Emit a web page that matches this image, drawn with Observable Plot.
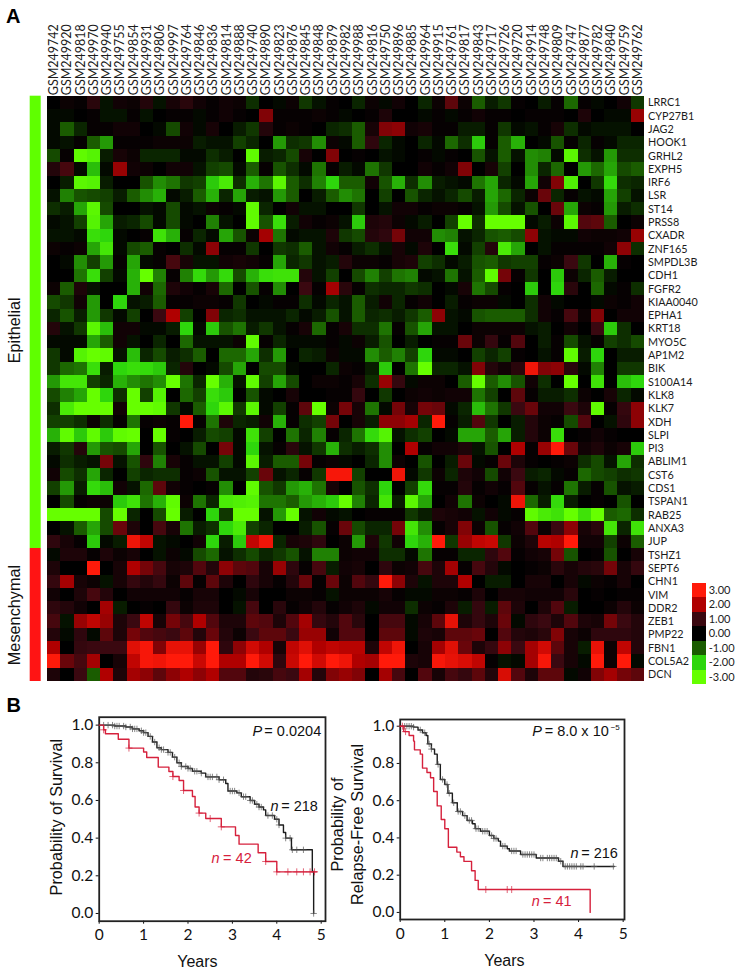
<!DOCTYPE html>
<html>
<head>
<meta charset="utf-8">
<script src="https://cdn.jsdelivr.net/npm/d3@7"></script>
<script src="https://cdn.jsdelivr.net/npm/@observablehq/plot@0.6"></script>
<style>
html,body{margin:0;padding:0;background:#fff;}
#page{position:relative;width:740px;height:974px;overflow:hidden;font-family:"Liberation Sans",Arial,sans-serif;}
#page>div{position:absolute;}
.panel{font:bold 20px "Liberation Sans",Arial,sans-serif;color:#000;line-height:20px;}
#heat svg g[aria-label="cell"]{filter:blur(.45px);}
</style>
</head>
<body>
<div id="page">
  <div class="panel" style="left:6px;top:6px;">A</div>
  <div class="panel" style="left:6.5px;top:695px;">B</div>
  <div id="side" style="left:0;top:0;"></div>
  <div id="heat" style="left:47.3px;top:0;"></div>
  <div id="legend" style="left:692px;top:575px;"></div>
  <div id="km1" style="left:0;top:700px;"></div>
  <div id="km2" style="left:330px;top:700px;"></div>
</div>
<script>
const samples = ["GSM249742","GSM249920","GSM249818","GSM249970","GSM249940","GSM249755","GSM249854","GSM249931","GSM249806","GSM249997","GSM249764","GSM249846","GSM249836","GSM249814","GSM249888","GSM249740","GSM249890","GSM249823","GSM249876","GSM249845","GSM249848","GSM249879","GSM249982","GSM249988","GSM249816","GSM249750","GSM249896","GSM249885","GSM249964","GSM249915","GSM249761","GSM249817","GSM249843","GSM249717","GSM249726","GSM249720","GSM249914","GSM249748","GSM249809","GSM249747","GSM249877","GSM249782","GSM249840","GSM249759","GSM249762"];
const genes = ["LRRC1","CYP27B1","JAG2","HOOK1","GRHL2","EXPH5","IRF6","LSR","ST14","PRSS8","CXADR","ZNF165","SMPDL3B","CDH1","FGFR2","KIAA0040","EPHA1","KRT18","MYO5C","AP1M2","BIK","S100A14","KLK8","KLK7","XDH","SLPI","PI3","ABLIM1","CST6","CDS1","TSPAN1","RAB25","ANXA3","JUP","TSHZ1","SEPT6","CHN1","VIM","DDR2","ZEB1","PMP22","FBN1","COL5A2","DCN"];
const expression = [
/*LRRC1*/[0,.2,.1,.7,-.2,.3,.2,.6,-.2,.4,.7,.3,.1,.3,.2,-.5,0,-.1,.2,-.6,-.2,.1,0,-.4,.2,-.1,.3,0,-.4,.2,1.3,.2,-1,-.3,-.6,.1,0,-.3,.1,-1.1,.1,-.1,0,.3,-.6],
/*CYP27B1*/[-.1,-.1,0,.1,-.2,-.2,.1,-.2,0,.1,.1,-.1,.1,.3,.1,0,1.6,.1,.1,.1,.2,.1,-.1,0,.1,.5,0,0,-.1,.1,-.1,.1,.3,.1,.1,0,.1,.1,.1,0,.5,0,-.1,-.1,1.8],
/*JAG2*/[-.1,-1,-.4,.1,.1,.3,.3,0,-.1,-.8,.3,-.1,.4,0,-.3,-.6,.6,.1,.2,.1,0,-.4,-.5,-1,.4,1.6,1.7,.3,.4,.1,.1,-.3,-.3,.1,-.6,-.1,-.2,.1,.4,-.5,-.1,-.2,-.2,-.2,0],
/*HOOK1*/[-.1,-.2,.1,-1,-1.5,.1,.1,.1,.2,.2,.2,-.3,-.2,-.2,-.7,-.4,0,-1.5,-.5,-.6,-1.4,.2,-.1,-1,.8,-.4,-.1,0,-.4,-.1,-1.1,-.5,-1.9,.1,-1,-1.7,0,-.1,-.9,.1,-.4,.1,-.1,-.4,-.4],
/*GRHL2*/[-.8,.1,-2.9,-2.7,-.3,.4,.2,-.4,-.4,-.4,-.1,-.1,-.5,-.3,0,-2.9,-.3,-.4,-.8,.4,0,1.6,0,.1,0,-.2,-.1,0,.1,-.1,.1,0,-.9,-.2,-1,-.2,-1.4,-1.3,-.1,-2.8,-.5,-.2,-1.5,-.5,-.5],
/*EXPH5*/[.6,1.1,-.1,-1.8,-.1,1.8,.3,.2,0,.3,.3,-.2,-.7,-.8,-.1,-1,.1,-.9,-.5,-.1,-1.2,.1,-.3,-.1,-1.2,-.6,0,0,.3,.1,.3,1.6,0,.4,-.7,0,-1.4,-.4,-1.1,0,-1.5,-1.1,-1.6,-.8,-1],
/*IRF6*/[0,-.3,-2.8,-2.7,-.3,0,0,-.9,-1.4,-1.2,-.6,-.7,-1.9,-2.5,-.5,-1.7,-1.2,-2.8,-1,-.5,-1.3,-2,-1,-1,.3,-.9,-1.7,-.5,-1.4,-.3,-.2,-.1,-1.2,-1.6,-.4,-.1,-1.6,.3,1.6,-2.6,0,-.6,-2.1,-.5,-.4],
/*LSR*/[-.2,-1.3,-.9,-.8,-.7,-.3,-1,-1.4,-1.7,-.1,-.3,-1,-1.7,-.4,-1.6,-.3,-.2,-1.5,-1,0,-.3,-1,-1.4,-1.2,0,-.7,0,-.9,-.4,-.2,-.4,-.8,-.3,-1.6,-1.1,-.4,.2,1.4,-.4,.1,-.2,-.1,-1.6,-.7,-.2],
/*ST14*/[-.5,-.3,-1.6,-2.8,-.8,0,0,-.2,-.1,-.8,-.1,-.2,.2,.1,-.1,-2.9,-.4,0,.3,-.2,-.2,0,0,-.6,0,-.2,.3,.3,.1,.2,.2,.1,-.2,-1.5,-.8,-.2,-.9,0,1.4,-1.6,.2,.1,-1.5,-.3,-.5],
/*PRSS8*/[-.1,-.2,-.7,-2.7,-1.6,-.3,-.4,-.8,-.1,-.8,-.1,0,-1.3,-.2,0,-2.9,-.9,-2.2,-.3,.3,.1,.2,-.2,-1.9,.5,.6,.2,-.1,-.3,0,-.7,-3,-.5,-3,-3,-3,-.1,-.3,.2,-2.8,1.2,1.3,-1,0,.2],
/*CXADR*/[-.2,-.2,-.1,-2.2,-2,-.1,0,.1,-2.3,-1.7,.1,-.4,-.1,-1.6,-.9,.2,1.9,-1.2,-.1,-.2,-.2,.5,-.6,-.8,.6,.8,1.5,.3,.3,-1.4,-1.3,-.2,-.4,-.9,-1,-.8,1.7,-.2,-.1,-.1,.3,.2,.2,.3,1.8],
/*ZNF165*/[.2,.1,.2,-1.6,-2.4,-.1,-.8,-1,.1,0,-.5,-.1,1.7,.1,.1,-.6,0,-.6,-.5,-1,-.2,.3,.1,-.3,-.5,-.2,.4,-.1,.5,0,-2.2,-.1,-.7,.6,-2.5,-1.6,0,-.2,.1,.1,.1,.1,.3,1.7,-.5],
/*SMPDL3B*/[0,-.1,-1.4,-.7,-1.5,.1,-1.6,-.1,.1,1.1,.4,-.2,-.2,.3,.4,.3,.1,-1.6,-.4,-.6,-.2,-.3,.6,.2,.2,.1,.4,.5,-.7,-.5,-.1,-.3,-.9,-1,-.6,-.7,-.7,.1,.2,1,-.6,0,-1.7,.1,0],
/*CDH1*/[0,0,-1.2,-2.2,-.7,-.1,-1.7,-3,-1.3,.1,-1.3,-2.1,-1.5,-2.1,-.8,-1.7,-2.2,-2.3,-2.3,.6,-.2,-.7,0,-.8,-1.3,-.7,-1.2,-1.3,-.1,-.2,-1.2,-.2,-1,-2.9,1.5,.1,-.6,0,-1.9,.2,-.4,-1,-.3,0,0],
/*FGFR2*/[.2,-1,.5,-.2,0,0,-1.7,.3,-1.1,.5,.3,.1,.4,-1.1,0,-.9,.1,-1.4,0,1,.1,1.9,.7,.1,-.5,-.4,-.4,-.6,-.5,0,-.1,.4,-1.2,-.8,.1,0,-1.9,0,-2,.7,0,-1.1,-.1,.1,-.5],
/*KIAA0040*/[-.8,-.6,.3,-1.5,0,-2,-.2,-.3,-1,.1,.1,.2,.2,.1,-.6,0,-.1,.1,.1,-.5,-.1,-.4,-.2,-1,-.3,.3,-.4,.1,.3,0,-.3,.1,.2,.2,-.1,0,-.5,.3,-.1,0,0,-.1,.2,.1,.3],
/*EPHA1*/[-.4,-.9,-.3,-1.5,-.6,-.1,-.7,0,1,2,-.7,0,1.6,-.4,-.5,-.2,-.2,-.2,-.4,-.1,-.3,-.9,-.2,-1,-.4,-.5,-.3,-.6,-1,1.7,-.2,-.1,-.9,-1,-1,-1,-.5,.3,.1,1.1,.2,1.6,0,.3,.3],
/*KRT18*/[.6,-.2,-.6,-2.8,-1.8,.3,.3,-.1,-.1,-.3,-2,-.1,-1.9,-.9,-1.2,-.3,-.6,-.2,.1,.4,-1.1,.1,.4,-.5,-.5,-1.2,.1,-.9,-1.6,-.2,-.2,0,.2,.2,.2,.2,-.2,-.3,0,.3,0,1,-1.9,-.5,0],
/*MYO5C*/[-.1,-.1,-.1,-1.6,-1,.3,-.2,0,-.4,0,-1.1,-.2,-.2,-.2,.2,-2.9,.1,-.4,-.1,-.1,-.1,.1,-.1,.2,-.3,-.9,0,-.3,0,.1,.1,1.4,.2,.9,.1,1.2,0,-.3,.1,-.8,-.2,.1,-.7,-.5,-.8],
/*AP1M2*/[-.6,-.1,-2.7,-3,-2.9,-.2,-1.8,-.4,-.8,-.3,-.5,-1,0,-1.1,-1.1,-1.6,-.5,-1.5,0,-.4,-.3,.2,-.1,-.1,-1.4,-1,-1.3,-.7,-2,-.1,-.1,0,-.7,-.4,-.7,.1,0,-.2,.1,-2.9,-.3,-2,0,-.3,-.3],
/*BIK*/[-.6,-1.1,-1.2,-2.2,-.3,-2,-2.2,-2.1,-1.9,-.4,.6,0,-.1,-.8,-1.6,0,-.8,-.8,-.1,0,0,-.4,.2,.1,-.3,-1.9,0,-1.2,-3,-.4,-.4,-.2,1.6,.6,.3,.7,2.8,1.6,1.7,.7,-.1,-1.3,0,-.6,-.6],
/*S100A14*/[-1.5,-2.4,-2.4,-.7,-.4,-1.7,-1.4,-1.2,-1.4,-3,-1.2,-.4,-3,-1.7,-.2,-2.9,-.7,-1.6,-.8,0,.2,.2,.1,.4,-.5,1.8,.9,-.1,.2,.2,0,-1,-3,-1,-1.4,-.9,.3,-.5,0,-3,0,-2.3,0,-1.8,-2],
/*KLK8*/[-.8,-1.3,-1.6,-3,-2,-.5,-3,-.7,-2.7,0,-1.1,-.7,-2.2,-1.9,0,-.9,-.1,0,.4,0,0,.1,.1,.9,0,-.6,0,.2,.3,.2,.3,.3,-1.2,-.7,0,1.3,.1,-.3,-.3,-.5,.2,0,.4,-.4,-.1],
/*KLK7*/[-.5,-2.5,-3,-3,-3,.3,-3,-3,-2.9,-.6,-.1,-1,-2,-2.8,-.6,-2.8,-.1,-.7,.1,1.3,-3,.2,1.5,.4,-1.2,-.1,1.5,.4,1.5,1.4,-.1,-.4,-1.8,-1.2,-.6,1,1.4,.3,.3,1,.5,-2.9,.1,.9,1.7],
/*XDH*/[-.7,-.7,-.5,.2,-.5,.1,-1.2,.1,.2,.1,3,.1,-1.2,.5,-.4,-.3,.3,-1.7,.1,-.5,-.7,1.5,0,.4,-.3,1.7,1.7,1.9,-.4,3,.1,-.3,1.2,-.6,0,-.3,.6,.2,.1,-.8,1.2,0,-.2,.8,1.7],
/*SLPI*/[-1.7,-2.9,-1.9,-2.9,-1.9,-2.9,-3,0,-3,.1,0,-.3,-.8,-.7,-.1,-2.3,-.7,0,-1.2,-.4,-1.3,.1,-.4,-1.2,-2.1,-2.7,-.2,-.5,-.7,0,-.1,-1.6,-1.6,-1,-1.6,-.3,.6,.2,-2.2,0,.1,.3,.1,0,0],
/*PI3*/[-.3,-.6,.6,-1.5,-.9,-.8,-1.6,0,-.9,0,-.2,-.8,0,1.5,-.1,-2,-.2,.1,.7,-.2,-.6,-1.7,-.5,-.3,-.5,-1.4,0,2,.1,.3,.3,.5,-.2,-.9,0,2,.1,1.8,3,1.4,.3,.5,.2,.4,-1.9],
/*ABLIM1*/[-.1,-.5,-.3,-.2,1.5,-.2,-.9,.8,-1.3,.4,.1,-.2,-.2,-.7,-.1,-2.8,-.3,-1,-1,1.5,.1,.2,-.1,0,-.4,-1.4,.2,0,-.9,0,-.3,1.4,-.1,.1,1.4,.5,.1,0,.1,.2,-.5,-.8,-.2,-1.6,-.5],
/*CST6*/[.3,-.8,-.5,-1.6,-.4,0,-.7,-.4,-.5,-.5,.1,.2,-.9,-.2,-.2,-.7,1.4,-.2,-.4,.1,-.6,2.9,2.9,-.7,0,0,2.8,-.1,-.6,.2,-.4,.5,.3,-.8,.3,1,-.3,-.4,-.1,.1,-1.1,-.8,-.7,-.5,-.6],
/*CDS1*/[-.7,-1.5,-.3,-2.1,-1.8,.3,-.2,-1.1,1.3,.3,.1,0,.1,-1.4,0,-2.9,-.9,-.6,-1.5,-1.7,-1.2,.4,0,-.9,-.5,-2,0,-.7,-2.1,.1,.1,.6,.1,.3,.1,1.2,.1,-.2,.1,-1.2,-.3,.1,-.9,-.2,-.3],
/*TSPAN1*/[0,-.8,.1,.2,.2,-1.9,-2.3,-1.2,-1.7,-2.9,.2,-1.2,-.4,-2.5,-2.6,-2.7,-1.2,-1.2,-1,-1.5,-1.7,-1.9,-3,-1.3,-.4,-2.4,-.3,-2.8,-1.6,0,.3,-1.2,.2,0,-.1,2.8,-1.1,-.3,-2.1,-.3,0,.1,0,-.9,0],
/*RAB25*/[-3,-3,-3,-3,-.8,-3,-.4,0,-.8,-3,-.3,0,-2,-.6,-3,-3,-.2,-1.5,-3,-.2,.3,-.1,-.2,0,.1,.1,.1,-.6,-.3,.5,.4,.3,-.2,.3,-.1,.1,-2.9,-2.5,-2.3,-3,-2.3,-3,-1,-1.1,-.5],
/*ANXA3*/[0,-.2,-1,-1.6,-.8,1.4,.5,0,1.1,.4,-1.2,-.3,-.5,-2,-2.5,-.7,-.4,0,0,-.3,-.9,.1,1.4,-.8,-.4,-.4,1.5,-2.4,-1.4,.1,.4,1.6,.2,-.9,.1,.3,1.2,.2,1,1.7,.4,.7,-2.4,-.4,-2.3],
/*JUP*/[.8,.4,.1,-1.9,-.1,-.3,2.8,2.2,-.2,-.1,0,.3,-2,-.3,-1.9,2.2,2.8,-.4,.4,.5,.8,0,.2,-1.5,.5,-.6,.3,-2,-1.7,3,-.6,1.8,2.2,2.3,-.6,.2,.5,2.1,2,3,.3,.3,-.7,.2,-1],
/*TSHZ1*/[-.1,.5,.5,.1,.5,.2,.4,0,-.2,.2,-.1,-.8,-1.1,-.2,-.5,-.8,-.4,-.6,-.9,-.2,-1.3,-1.3,.2,.3,.3,-.5,-.5,-.1,-1.2,.1,.1,-.4,-.4,.8,1.2,.1,.3,.4,1.5,-.9,0,.1,-.9,0,.4],
/*SEPT6*/[.5,0,0,3,0,.4,2,1.5,1.1,.4,.5,1.2,.6,1.7,1.3,1.2,.4,1.8,.8,.1,1.1,-.3,.3,.4,0,.8,.2,.3,1.1,.5,1.9,.1,1.1,.6,-.1,0,.1,.2,.7,.4,.6,.7,1.5,.4,.9],
/*CHN1*/[.9,1.9,.4,.2,-.2,.4,.9,.6,.9,.2,1.3,.1,1.3,.5,0,.8,.4,.1,.6,1.4,.1,1.4,.2,1.2,.9,3,1.7,.5,-.2,.5,.5,2,0,-.3,-.3,0,.4,.4,0,.4,-.1,.2,.1,.4,0],
/*VIM*/[.3,0,.5,1.1,.6,0,.3,.3,.3,.3,.1,.4,.4,0,-.1,.4,0,0,.2,.2,.1,-.2,.2,.2,.2,.4,.1,-.1,-.1,.2,.2,.1,.5,0,.4,.4,.3,.3,.3,.7,0,.1,0,.1,.1],
/*DDR2*/[.8,.6,.3,0,1.9,-.3,0,.1,0,.9,.2,.5,.5,0,-.2,1.1,0,.7,.1,.3,.6,.1,.3,.5,-.1,.3,.3,-.5,.2,.1,.5,-.3,.9,-.3,1.3,.5,0,.5,1.2,-.3,0,0,.2,.6,.2],
/*ZEB1*/[1.1,-.2,1.8,2.2,1.8,.5,1,2.2,.4,1.5,1.1,2,1.2,.5,.5,1.3,1.2,.5,1.2,1.9,.9,.6,1.2,.7,0,1.1,1.1,-.1,.4,1.3,2.7,.5,.9,.5,1.4,-.1,.8,1,.5,1.2,.5,.4,1.5,1,.6],
/*PMP22*/[.6,-.1,.8,-.1,1.3,.5,1.5,1.2,1.1,1,1.3,.6,1.4,.6,.2,1,1.3,1.3,1,1.8,1.8,.3,1.2,1.2,0,1.3,1.3,-.1,.5,.4,1.3,1.3,1.4,0,1.2,.6,.5,.7,1.6,.4,.2,.8,.8,.8,.6],
/*FBN1*/[2,0,.9,1,1,1,2.6,2.9,1.6,2.7,2.7,1.8,3,.8,1.7,2.4,2,.4,2.2,2.6,2,2.2,2.1,2.1,.5,2.2,2.8,0,.4,1.9,2.6,1.4,.5,.9,1.7,1,1.9,2.4,1.3,.4,-.3,2.7,.2,2.2,.6],
/*COL5A2*/[3,1.4,1.1,1.9,0,.4,2.2,2.9,2.8,3,3,2.3,3,2,2,3,2.4,.8,2.3,3,2.4,3,2.8,2,1.9,3,3,.5,.4,2.9,2.7,2.5,2.2,.1,-.2,-.1,1.9,2.9,1,.4,-.1,3,.2,3,-.1],
/*DCN*/[.5,0,1,-1,2,.5,1.9,1.7,1.3,1.7,2,1.7,2,1.2,1.2,.6,.7,1.1,1,1.9,.6,1.6,1.8,1.6,0,1.9,1.1,0,1.2,.4,1.1,.9,1.3,.6,2.5,1.2,.5,1.3,1.3,-.1,.3,1.6,1.9,1.5,1.3]
];
const colorStops = [-3,-2,-1,0,1,2,3];
const colorRange = ["#66ff00","#2ed60c","#1a5c00","#000000","#3a0810","#b00000","#ff1a0a"];
const legendLabels = ["3.00","2.00","1.00","0.00","-1.00","-2.00","-3.00"];
const legendValues = [3,2,1,0,-1,-2,-3];
const groupNames = ["Epithelial","Mesenchymal"];
const groupFrom = [0,34];
const groupTo = [34,44];
const groupColors = ["#5fff00","#ff1414"];

// Survival panel
const os_hi_t=[0,.35,.6,.75,.9,1,1.1,1.2,1.3,1.4,1.55,1.65,1.75,1.85,2,2.1,2.3,2.4,2.7,2.85,2.9,3.1,3.2,3.4,3.5,3.6,3.7,3.75,3.95,4.05,4.15,4.2,4.33,4.8,4.83];
const os_hi_s=[1,.995,.99,.98,.97,.96,.94,.91,.88,.87,.855,.83,.80,.78,.77,.755,.745,.725,.71,.69,.65,.64,.62,.60,.58,.565,.55,.52,.50,.47,.43,.40,.338,.223,0];
const os_hi_cens=[.1,.2,.3,.35,.4,.45,.55,.6,.7,.75,.8,.85,.95,1,1.05,1.15,1.25,1.35,1.4,1.45,1.55,1.6,1.7,1.8,1.85,1.95,2,2.05,2.15,2.2,2.3,2.45,2.5,2.55,2.65,2.7,2.8,2.95,3,3.05,3.15,3.25,3.3,3.4,3.45,3.55,3.6,3.65,3.8,3.9,4,4.05,4.2,4.3,4.35,4.45,4.6,4.83];
const os_lo_t=[0,.1,.14,.43,.67,1,1.07,1.33,1.57,1.66,1.8,1.9,2.1,2.16,2.25,2.4,2.75,3.07,3.15,3.58,3.75,4,4.9];
const os_lo_s=[1,.975,.954,.925,.878,.857,.828,.777,.754,.727,.706,.653,.621,.565,.533,.504,.46,.414,.368,.322,.276,.221,.221];
const os_lo_cens=[.1,.67,1.66,1.9,2.25,2.5,2.75,3.75,4,4.25,4.45,4.6,4.75,4.85];
// Relapse-free panel
const rf_hi_t=[0,.3,.4,.5,.58,.62,.7,.77,.83,.9,1,1.07,1.17,1.28,1.4,1.5,1.62,1.68,1.8,2,2.1,2.2,2.25,2.4,2.45,2.7,3.05,3.55,3.65,4.8];
const rf_hi_s=[1,.995,.98,.965,.95,.905,.877,.85,.795,.714,.687,.64,.589,.542,.52,.494,.476,.45,.436,.413,.397,.383,.356,.342,.33,.311,.292,.275,.247,.247];
const rf_hi_cens=[.1,.15,.2,.25,.3,.45,.55,.65,.7,.85,.95,1.05,1.1,1.2,1.3,1.35,1.45,1.55,1.6,1.7,1.75,1.85,1.9,1.95,2.05,2.1,2.15,2.3,2.35,2.5,2.55,2.6,2.75,2.8,2.85,2.9,2.95,3,3.15,3.2,3.3,3.35,3.4,3.45,3.5,3.6,3.7,3.75,3.8,3.85,3.9,3.95,4.05,4.1,4.35,4.78];
const rf_lo_t=[0,.08,.2,.3,.32,.45,.5,.6,.68,.75,.83,.92,1,1.08,1.27,1.35,1.43,1.6,1.68,1.75,4.26];
const rf_lo_s=[1,.971,.95,.92,.873,.85,.775,.751,.723,.649,.572,.499,.449,.35,.324,.299,.274,.224,.172,.123,0];
const rf_lo_cens=[.05,.12,1.92,2.4,2.5];

const INK="#1c1c1c", RED="#d6213c";
const labelFont='Lato, "Liberation Sans", sans-serif';
const humanist='"Liberation Sans", Arial, sans-serif';

const cells = expression.flatMap((row,r)=>row.map((v,c)=>({gene:genes[r],sample:samples[c],value:v})));
const colorScale = {type:"linear",domain:colorStops,range:colorRange,clamp:true};
const base = {background:"transparent",overflow:"visible"};

document.getElementById("heat").append(Plot.plot({
  width:645,height:681,marginLeft:0,marginRight:48,marginTop:95.7,marginBottom:0,
  style:{...base,fontFamily:labelFont,color:INK},
  x:{domain:samples,padding:0,axis:null,round:false},
  y:{domain:genes,padding:0,axis:null,round:false},
  color:colorScale,
  marks:[
    Plot.cell(cells,{x:"sample",y:"gene",fill:"value",shapeRendering:"crispEdges"}),
    Plot.axisX({anchor:"top",tickSize:0,tickRotate:-90,tickPadding:1,fontSize:12.5,label:null}),
    Plot.axisY({anchor:"right",tickSize:0,tickPadding:3.5,fontSize:10.8,label:null})
  ]
}));

const groups = groupNames.map((name,i)=>({name,from:groupFrom[i],to:groupTo[i],color:groupColors[i]}));
document.getElementById("side").append(Plot.plot({
  width:47,height:681,marginLeft:29.7,marginRight:6.3,marginTop:95.7,marginBottom:0,
  style:{...base},
  x:{domain:[0,1],axis:null},
  y:{domain:[0,44],axis:null,reverse:true},
  marks:[
    Plot.rect(groups,{x1:0,x2:1,y1:"from",y2:"to",fill:d=>d.color}),
    Plot.text([groups[0]],{x:0,y:d=>(d.from+d.to)/2,text:"name",rotate:-90,dx:-15,dy:8,fontSize:16.3,fontFamily:humanist,fill:"#111"}),
    Plot.text([groups[1]],{x:0,y:d=>(d.from+d.to)/2,text:"name",rotate:-90,dx:-15,dy:0,fontSize:16.3,fontFamily:humanist,fill:"#111"})
  ]
}));

const legendData = legendValues.map((v,i)=>({v,label:legendLabels[i]}));
document.getElementById("legend").append(Plot.plot({
  width:48,height:109,marginLeft:0,marginRight:33.3,marginTop:7.7,marginBottom:0,
  style:{...base,fontFamily:labelFont,color:INK},
  x:{axis:null,domain:["k"],padding:0},
  y:{domain:legendLabels,padding:0,axis:null,round:false},
  color:colorScale,
  marks:[
    Plot.cell(legendData,{x:()=>"k",y:"label",fill:"v",shapeRendering:"crispEdges"}),
    Plot.axisY({anchor:"right",tickSize:0,tickPadding:1.5,fontSize:11,label:null})
  ]
}));

function stepAt(ts,ss,t){let s=ss[0];for(let i=0;i<ts.length;i++){if(ts[i]<=t)s=ss[i];}return s;}
function series(ts,ss){return ts.map((t,i)=>({t,s:ss[i]}));}
function censored(ts,ss,cs){return cs.map(t=>({t,s:stepAt(ts,ss,t)}));}

function km(cfg){
  return Plot.plot({
    width:cfg.width,height:274,marginLeft:cfg.ml,marginRight:cfg.mr,marginTop:cfg.mt,marginBottom:cfg.mb,
    style:{...base,fontFamily:labelFont,fontSize:"15.5px",color:"#111"},
    x:{domain:cfg.xd,ticks:[0,1,2,3,4,5],tickFormat:d3.format("d"),tickSize:3,tickPadding:5,label:null},
    y:{domain:cfg.yd,ticks:[0,.2,.4,.6,.8,1],tickFormat:d3.format(".1f"),tickSize:3,tickPadding:3,label:null},
    marks:[
      Plot.frame({stroke:"#222",strokeWidth:1.8}),
      Plot.line(series(cfg.hi[0],cfg.hi[1]),{x:"t",y:"s",curve:"step-after",stroke:INK,strokeWidth:1.4}),
      Plot.dot(censored(cfg.hi[0],cfg.hi[1],cfg.hi[2]),{x:"t",y:"s",symbol:"plus",r:2.2,stroke:"#555",strokeWidth:.7}),
      Plot.line(series(cfg.lo[0],cfg.lo[1]),{x:"t",y:"s",curve:"step-after",stroke:RED,strokeWidth:1.4}),
      Plot.dot(censored(cfg.lo[0],cfg.lo[1],cfg.lo[2]),{x:"t",y:"s",symbol:"plus",r:2.4,stroke:RED,strokeWidth:.7}),
      ...cfg.notes.map(n=>Plot.text([n.text],{x:n.x,y:n.y,text:d=>d,textAnchor:"start",fontFamily:humanist,fontSize:n.size||14.5,fontStyle:n.italic?"italic":"normal",fill:n.red?RED:"#111"})),
      ...cfg.labels.map(l=>Plot.text([l.text],{frameAnchor:"left",textAnchor:"middle",text:d=>d,rotate:-90,dx:l.dx,dy:l.dy,fontFamily:humanist,fontSize:16.3,fill:"#111"})),
      Plot.text(["Years"],{frameAnchor:"bottom",text:d=>d,dy:46,dx:cfg.yearsDx,fontFamily:humanist,fontSize:16,fill:"#111"})
    ]
  });
}

document.getElementById("km1").append(km({
  width:330,ml:98.7,mr:5,mt:16.7,mb:53.3,xd:[0,5.097],yd:[-.041,1.042],
  hi:[os_hi_t,os_hi_s,os_hi_cens],lo:[os_lo_t,os_lo_s,os_lo_cens],
  notes:[
    {text:"P",x:3.45,y:.968,italic:true},{text:"= 0.0204",x:3.72,y:.968},
    {text:"n",x:3.86,y:.568,italic:true},{text:"= 218",x:4.1,y:.568},
    {text:"n",x:2.53,y:.29,italic:true,red:true},{text:"= 42",x:2.79,y:.29,red:true}
  ],
  labels:[{text:"Probability of Survival",dx:-42.5,dy:-2}],
  yearsDx:-15
}));
document.getElementById("km2").append(km({
  width:340,ml:69.7,mr:46,mt:19,mb:55,xd:[0,5.03],yd:[-.038,1.036],
  hi:[rf_hi_t,rf_hi_s,rf_hi_cens],lo:[rf_lo_t,rf_lo_s,rf_lo_cens],
  notes:[
    {text:"P",x:2.96,y:.973,italic:true},{text:"= 8.0 x 10",x:3.24,y:.973},{text:"−5",x:4.72,y:.995,size:8},
    {text:"n",x:3.82,y:.318,italic:true},{text:"= 216",x:4.06,y:.318},
    {text:"n",x:2.95,y:.057,italic:true,red:true},{text:"= 41",x:3.2,y:.057,red:true}
  ],
  labels:[{text:"Probability of",dx:-62.5,dy:5},{text:"Relapse-Free Survival",dx:-42.5,dy:5}],
  yearsDx:-8
}));
</script>
</body>
</html>
